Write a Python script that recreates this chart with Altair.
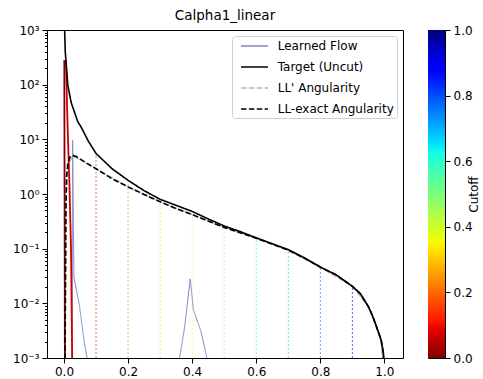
import altair as alt
import pandas as pd

chart_title = "Calpha1_linear"

# Target (Uncut)
target_x = [0.0005, 0.002, 0.004, 0.012, 0.022, 0.043, 0.053, 0.075, 0.1, 0.15, 0.2, 0.25, 0.3,
            0.35, 0.4, 0.45, 0.5, 0.55, 0.6, 0.65, 0.7, 0.75, 0.8, 0.85, 0.9, 0.925, 0.95,
            0.9625, 0.975, 0.99, 0.997, 1.0]
target_y = [5000, 1000, 400, 98, 48, 21, 17, 9.5, 5.5, 2.9, 1.78, 1.15, 0.80, 0.62, 0.48, 0.35,
            0.26, 0.205, 0.158, 0.123, 0.096, 0.068, 0.046, 0.033, 0.0205, 0.015, 0.0087,
            0.006, 0.0038, 0.0021, 0.0012, 0.0003]

# LL-exact Angularity
llx_x = [0.003, 0.005, 0.006, 0.008, 0.012, 0.018, 0.027, 0.04, 0.063, 0.1, 0.15, 0.2, 0.25,
         0.3, 0.35, 0.4, 0.45, 0.5, 0.55, 0.6, 0.65, 0.7, 0.75, 0.8, 0.85, 0.9, 0.925, 0.95,
         0.9625, 0.975, 0.99, 0.997, 1.0]
llx_y = [0.0005, 0.05, 0.5, 2.0, 3.6, 4.7, 5.1, 4.8, 3.9, 2.9, 1.9, 1.35, 0.98, 0.72, 0.54,
         0.42, 0.32, 0.245, 0.195, 0.155, 0.121, 0.094, 0.067, 0.046, 0.033, 0.0205, 0.015,
         0.0087, 0.006, 0.0038, 0.0021, 0.0012, 0.0003]

# LL' Angularity (hidden under LL-exact)
llp_x = [0.003, 0.005, 0.007, 0.012, 0.027, 0.063, 0.1, 0.2, 0.3, 0.4, 0.5, 0.6, 0.7, 0.8,
         0.9, 0.95, 0.99, 1.0]
llp_y = [0.0005, 0.05, 1.0, 3.5, 5.0, 3.9, 2.9, 1.35, 0.72, 0.42, 0.245, 0.155, 0.094, 0.046,
         0.0205, 0.0087, 0.0021, 0.0003]

# Learned Flow curves
flow1_x = [0.026, 0.027, 0.029, 0.031, 0.034, 0.048, 0.063, 0.072, 0.078]
flow1_y = [0.0005, 9.6, 0.5, 0.03, 0.0245, 0.0093, 0.002, 0.001, 0.0006]
flow2_x = [0.358, 0.376, 0.394, 0.404, 0.428, 0.446, 0.45]
flow2_y = [0.0008, 0.0035, 0.028, 0.0076, 0.003, 0.001, 0.0008]

# Coloured curves near zero (by cutoff)
red0_x = [0.001, 0.003]
red0_y = [280, 0.0005]
red0_cut = 0.0
red1_x = [0.006, 0.011, 0.017, 0.022, 0.026]
red1_y = [280, 20, 1.5, 0.1, 0.0005]
red1_cut = 0.07

# Cutoff lines
cutoffs = [0.1, 0.2, 0.3, 0.4, 0.5, 0.6, 0.7, 0.8, 0.9]
cut_top = [5.5, 1.78, 0.80, 0.48, 0.26, 0.158, 0.096, 0.046, 0.0205]
cut_bottom = [0.001] * 9

# jet_r colormap stops
cmap_pos = [0.0, 0.09, 0.11, 0.34, 0.35, 0.36, 0.625, 0.65, 0.66, 0.875, 0.89, 1.0]
cmap_col = ["#800000", "#e80000", "#ff1300", "#ffec00", "#f7f500", "#effd08", "#15ffe2",
            "#00e6f7", "#00dbff", "#0000ff", "#0000ff", "#000080"]

series_order = ["Learned Flow", "Target (Uncut)", "LL' Angularity", "LL-exact Angularity"]
series_colors = ["#8282c4", "#000000", "#b4b4b4", "#000000"]
series_dash = [[1, 0], [1, 0], [5.5, 2.4], [5.5, 2.4]]

ytick_vals = [0.001, 0.01, 0.1, 1, 10, 100, 1000]
ytick_text = ["10⁻³", "10⁻²", "10⁻¹", "10⁰", "10¹", "10²", "10³"]
xtick_vals = [0.0, 0.2, 0.4, 0.6, 0.8, 1.0]
cb_ticks = [0.0, 0.2, 0.4, 0.6, 0.8, 1.0]

rows = []
def add(series, group, xs, ys):
    for a, b in zip(xs, ys):
        rows.append({"series": series, "group": group, "x": a, "y": b})

add("LL' Angularity", "llp", llp_x, llp_y)
add("Learned Flow", "f1", flow1_x, flow1_y)
add("Learned Flow", "f2", flow2_x, flow2_y)
add("Target (Uncut)", "t", target_x, target_y)
add("LL-exact Angularity", "llx", llx_x, llx_y)
df = pd.DataFrame(rows)

red_rows = []
for g, xs, ys, c in [("r0", red0_x, red0_y, red0_cut), ("r1", red1_x, red1_y, red1_cut)]:
    for a, b in zip(xs, ys):
        red_rows.append({"group": g, "x": a, "y": b, "cutoff": c})
red_df = pd.DataFrame(red_rows)

cut_df = pd.DataFrame({"cutoff": cutoffs, "top": cut_top, "bottom": cut_bottom})

W, H = 356, 328
FONT = "DejaVu Sans"
FS = 12

xscale = alt.Scale(domain=[-0.053, 1.058], nice=False, zero=False)
yscale = alt.Scale(type="log", domain=[0.001, 1000], nice=False)
cscale = alt.Scale(domain=cmap_pos, range=cmap_col)

label_expr = ""
for i, (v, t) in enumerate(zip(ytick_vals, ytick_text)):
    if i < len(ytick_vals) - 1:
        label_expr += f"datum.value < {v * 3} ? '{t}' : "
    else:
        label_expr += f"'{t}'"

minor_vals = [k * 10.0 ** e for e in range(-3, 3) for k in range(2, 10)]

xaxis = alt.Axis(values=xtick_vals, format=".1f", title=None, tickSize=5, labelPadding=3,
                 domain=False, grid=False)
yaxis = alt.Axis(values=ytick_vals, labelExpr=label_expr, title=None, tickSize=5,
                 labelPadding=3, domain=False, grid=False, orient="left")
yaxis_minor = alt.Axis(values=minor_vals, labels=False, title=None, tickSize=2.5,
                       domain=False, grid=False, orient="left")

X = lambda f: alt.X(f, scale=xscale, axis=xaxis)

rules = alt.Chart(cut_df).mark_rule(strokeDash=[2, 2], strokeWidth=0.9, opacity=0.7, clip=True).encode(
    x=X("cutoff:Q"),
    y=alt.Y("bottom:Q", scale=yscale, axis=yaxis),
    y2="top:Q",
    color=alt.Color("cutoff:Q", scale=cscale, legend=None),
)

minor = alt.Chart(cut_df).mark_point(opacity=0).encode(
    x=X("cutoff:Q"),
    y=alt.Y("top:Q", scale=yscale, axis=yaxis_minor),
)

legend = alt.Legend(title=None, orient="top-right", offset=6, padding=3,
                    strokeColor="#d0d0d0", fillColor="white", cornerRadius=3,
                    symbolType="M-0.167,0H4.333", symbolSize=144, symbolStrokeWidth=1.5,
                    symbolFillColor="transparent",
                    labelFontSize=FS, labelFont=FONT, labelOffset=28.7, rowPadding=8,
                    labelColor="black", labelExpr="datum.label + '  '")

def series_layer(name, width, show_legend):
    lg = legend if show_legend else None
    return alt.Chart(df).transform_filter(alt.datum.series == name).mark_line(
        strokeWidth=width, clip=True).encode(
        x=X("x:Q"),
        y=alt.Y("y:Q", scale=yscale, axis=None),
        color=alt.Color("series:N", scale=alt.Scale(domain=series_order, range=series_colors),
                        legend=lg),
        strokeDash=alt.StrokeDash("series:N", scale=alt.Scale(domain=series_order, range=series_dash),
                                  legend=lg),
        detail="group:N",
        order=alt.Order("x:Q"),
    )

red_layer = alt.Chart(red_df).mark_line(strokeWidth=1.8, clip=True).encode(
    x=X("x:Q"),
    y=alt.Y("y:Q", scale=yscale, axis=None),
    color=alt.Color("cutoff:Q", scale=cscale, legend=None),
    detail="group:N",
    order=alt.Order("x:Q"),
)

main = alt.layer(
    rules, minor,
    series_layer("LL' Angularity", 1.5, False),
    series_layer("Learned Flow", 1.0, False),
    red_layer,
    series_layer("Target (Uncut)", 1.6, False),
    series_layer("LL-exact Angularity", 1.6, True),
).resolve_scale(color="independent", strokeDash="independent").resolve_axis(y="independent").properties(
    width=W, height=H,
    title=alt.TitleParams(chart_title, fontSize=13.5, font=FONT, fontWeight="normal", anchor="middle",
                          offset=2, color="black"),
)

cb_df = pd.DataFrame({"lo": [0.0], "hi": [1.0]})
gradient = alt.Gradient(
    gradient="linear",
    stops=[alt.GradientStop(offset=p, color=c) for p, c in zip(cmap_pos, cmap_col)],
    x1=0, x2=0, y1=1, y2=0,
)
colorbar = alt.Chart(cb_df).mark_rect(fill=gradient).encode(
    y=alt.Y("lo:Q", scale=alt.Scale(domain=[0, 1], nice=False, zero=False),
            axis=alt.Axis(orient="right", values=cb_ticks, format=".1f", title="Cutoff",
                          titleAngle=270, titleFontSize=FS, titleFont=FONT,
                          titleFontWeight="normal", titlePadding=8, tickSize=5,
                          labelPadding=3, domain=False, grid=False, titleColor="black")),
    y2="hi:Q",
    x=alt.value(0),
    x2=alt.value(17),
).properties(width=17, height=H)

chart = alt.hconcat(main, colorbar, spacing=23).configure_view(
    stroke="black", strokeWidth=1
).configure_axis(
    labelFont=FONT, labelFontSize=FS, labelColor="black", tickColor="black"
).properties(padding={"left": 12, "top": 8, "right": 0, "bottom": 5})

chart.save("out.html", embed_options={"renderer": "svg", "actions": False})
